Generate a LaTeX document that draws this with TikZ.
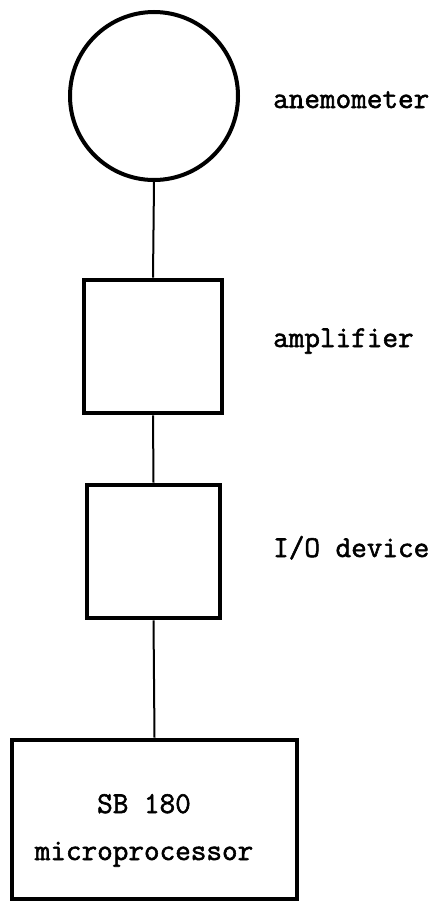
\documentclass[tikz,border=0pt]{standalone}
\usepackage{fontspec}
\newfontfamily\twfont[FakeBold=1.8]{Latin Modern Mono}
\begin{document}
\begin{tikzpicture}[x=1pt,y=-1pt,
  blockbox/.style={draw,line width=4.8pt,inner sep=0pt},
  wire/.style={line width=2pt},
  lbl/.style={font=\twfont\fontsize{30.3}{34}\selectfont,inner sep=0pt,anchor=base west}]
\useasboundingbox (0,0) rectangle (439,902);
\node[blockbox,circle,minimum size=168pt,line width=4pt] (anem) at (154,96) {};
\node[blockbox,minimum width=138pt,minimum height=133pt] (amp) at (153,346.5) {};
\node[blockbox,minimum width=133pt,minimum height=133pt] (io) at (153.5,551.5) {};
\node[blockbox,minimum width=285pt,minimum height=159pt] (mp) at (154.5,819.5) {};
\node[lbl] (lanem) at (273,108) {anemometer};
\node[lbl] (lamp) at (273,347) {amplifier};
\node[lbl] (lio) at (273,557) {I/O device};
\node[lbl,anchor=base] (sb) at (144,813) {SB 180};
\node[lbl,anchor=base] (micro) at (144,860) {microprocessor};
\draw[wire] (anem.south) -- (amp.north);
\draw[wire] (amp.south) -- (io.north);
\draw[wire] (io.south) -- (mp.north);
\end{tikzpicture}
\end{document}
